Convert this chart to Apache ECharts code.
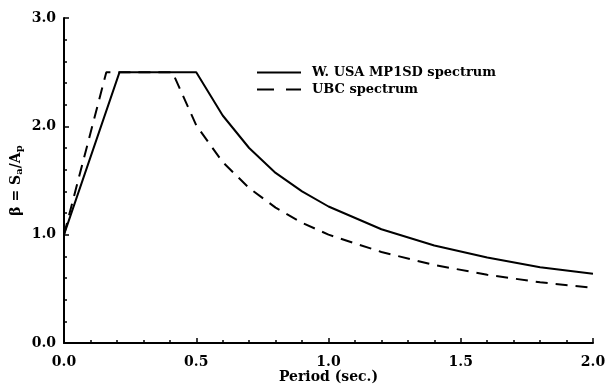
<!DOCTYPE html>
<html><head><meta charset="utf-8">
<script src="https://cdn.jsdelivr.net/npm/echarts@6/dist/echarts.min.js"></script>
<style>html,body{margin:0;padding:0;background:#fff}#c{width:607px;height:387px}</style>
</head><body><div id="c"></div>
<script>
var seriesNames = ['W. USA MP1SD spectrum', 'UBC spectrum'];
var mp1sdT = [0.0, 0.21, 0.5, 0.6, 0.7, 0.8, 0.9, 1.0, 1.2, 1.4, 1.6, 1.8, 2.0];
var mp1sdB = [1.0, 2.5, 2.5, 2.1, 1.8, 1.57, 1.4, 1.26, 1.05, 0.9, 0.79, 0.7, 0.64];
var ubcT = [0.0, 0.16, 0.41, 0.5, 0.6, 0.7, 0.8, 0.9, 1.0, 1.2, 1.4, 1.6, 1.8, 2.0];
var ubcB = [1.0, 2.5, 2.5, 2.01, 1.67, 1.43, 1.25, 1.11, 1.0, 0.84, 0.72, 0.63, 0.56, 0.51];
var xTicks = [0.0, 0.5, 1.0, 1.5, 2.0];
var yTicks = [0.0, 1.0, 2.0, 3.0];

function pairs(xs, ys){ return xs.map(function(x,i){ return [x, ys[i]]; }); }
var F = '"DejaVu Serif", serif';
var chart = echarts.init(document.getElementById('c'));
chart.setOption({
  animation: false,
  backgroundColor: '#fff',
  grid: {left: 64, right: 14, top: 18, bottom: 44, containLabel: false, outerBoundsMode: 'none'},
  legend: {
    orient: 'vertical', left: 251, top: 61, itemWidth: 44, itemHeight: 14, itemGap: 4,
    itemStyle: {color: 'rgba(0,0,0,0)', borderWidth: 0, opacity: 0},
    textStyle: {fontFamily: F, fontWeight: 'bold', fontSize: 13, color: '#000', padding: [0,0,0,6]},
    data: [
      {name: seriesNames[0], lineStyle: {type: 'solid', width: 2}},
      {name: seriesNames[1], lineStyle: {type: [17, 12], width: 2}}
    ]
  },
  xAxis: {
    type: 'value', min: xTicks[0], max: xTicks[xTicks.length-1], interval: 0.5,
    name: 'Period (sec.)', nameLocation: 'middle', nameGap: 27, nameMoveOverlap: false,
    nameTextStyle: {fontFamily: F, fontWeight: 'bold', fontSize: 14, color: '#000'},
    axisLine: {lineStyle: {color: '#000', width: 2}},
    axisTick: {inside: true, length: 5, lineStyle: {color: '#000', width: 1.5}},
    minorTick: {show: true, splitNumber: 5, length: 3, lineStyle: {color: '#000', width: 1.5}},
    splitLine: {show: false},
    axisLabel: {fontFamily: F, fontWeight: 'bold', fontSize: 14, color: '#000', margin: 12,
      formatter: function(v){ return v.toFixed(1); }}
  },
  yAxis: {
    type: 'value', min: yTicks[0], max: yTicks[yTicks.length-1], interval: 1,
    name: '{b|β = S}{s|a}{b|/A}{s|p}', nameLocation: 'middle', nameGap: 40, nameRotate: 90, nameMoveOverlap: false,
    nameTextStyle: {rich: {
      b: {fontFamily: F, fontWeight: 'bold', fontSize: 14, color: '#000'},
      s: {fontFamily: F, fontWeight: 'bold', fontSize: 10, color: '#000', padding: [6,0,0,0]}
    }},
    axisLine: {show: true, lineStyle: {color: '#000', width: 2}},
    axisTick: {show: true, inside: true, length: 5, lineStyle: {color: '#000', width: 1.5}},
    minorTick: {show: true, splitNumber: 5, length: 3, lineStyle: {color: '#000', width: 1.5}},
    splitLine: {show: false},
    axisLabel: {fontFamily: F, fontWeight: 'bold', fontSize: 14, color: '#000', margin: 8,
      formatter: function(v){ return v.toFixed(1); }}
  },
  series: [
    {name: seriesNames[0], type: 'line', data: pairs(mp1sdT, mp1sdB), showSymbol: false, symbol: 'none',
      lineStyle: {color: '#000', width: 2}, itemStyle: {color: '#000'}},
    {name: seriesNames[1], type: 'line', data: pairs(ubcT, ubcB), showSymbol: false, symbol: 'none',
      lineStyle: {color: '#000', width: 2, type: [12, 8]}, itemStyle: {color: '#000'}}
  ]
});
</script></body></html>
